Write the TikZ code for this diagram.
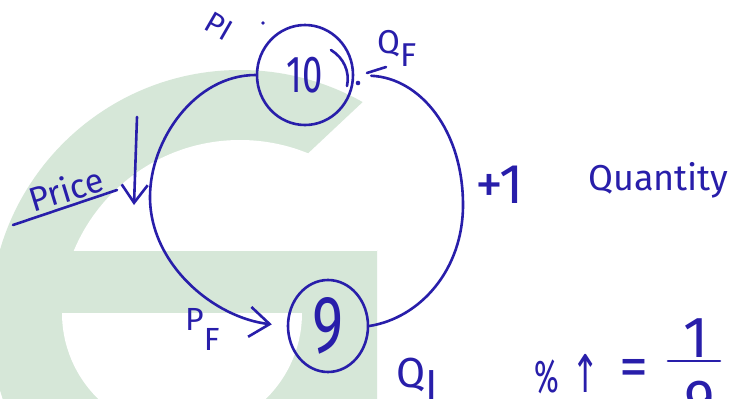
\documentclass[tikz,border=0pt]{standalone}
\usepackage{fontspec}
\setmainfont{Fira Sans}
\newfontfamily\arrowfont{DejaVu Sans}
\usepackage{graphicx}
\usetikzlibrary{shapes.geometric,arrows.meta}
\definecolor{ink}{RGB}{40,30,170}
\definecolor{wm}{RGB}{214,231,216}
\tikzset{
  inkline/.style={draw=ink, line width=2.6pt, line cap=round, line join=round},
  numcirc/.style={ellipse, draw=ink, line width=2.6pt, inner sep=0pt, text=ink},
  lbl/.style={text=ink, inner sep=0pt},
}
\begin{document}
\begin{tikzpicture}[x=1pt,y=-1pt]
\clip (0,0) rectangle (729,399);
\fill[white] (0,0) rectangle (729,399);
% watermark
\begin{scope}
  \clip (-10,-10) rectangle (377,410);
  \begin{scope}
    \clip (-10,-10) -- (482,-10) -- (205,250) -- (-10,250) -- cycle;
    \fill[wm] (240,320) circle (250);
  \end{scope}
  \begin{scope}
    \clip (-10,250) rectangle (400,410);
    \fill[wm] (240,320) circle (250);
  \end{scope}
  \begin{scope}
    \clip (-10,-10) rectangle (400,250);
    \fill[white] (240,320) circle (180);
  \end{scope}
  \begin{scope}
    \clip (-10,313) rectangle (400,410);
    \fill[white] (182,313) circle (120);
  \end{scope}
\end{scope}
% circled numbers
\node[numcirc, minimum width=96pt, minimum height=100pt, font=\fontsize{52}{52}\selectfont] (ten) at (305,75) {\scalebox{0.7}[1]{10}};
\node[numcirc, minimum width=80pt, minimum height=92pt, font=\fontsize{81}{81}\selectfont] (nine) at (328,326) {\scalebox{0.73}[1]{9}};
\coordinate (lmid) at (150,197);
\coordinate (rmid) at (463,205);
\draw[inkline, -{Straight Barb[length=20pt,width=30pt]}, shorten >=15pt] (ten.west) .. controls (195,75) and (150,140) .. (lmid) .. controls (150,265) and (215,318) .. (nine.west);
\draw[inkline, shorten <=17pt] (ten.east) .. controls (420,78) and (463,130) .. (rmid) .. controls (463,270) and (420,318) .. (nine.east);
\draw[inkline] (331,50) .. controls (344,58) and (350,72) .. (347,86);
\draw[inkline] (367,73) -- (386,67);
\fill[ink] (263,23) circle (1.8);
\fill[ink] (358,83) circle (2.3);
% labels
\node[lbl, rotate=-30, font=\fontsize{30}{30}\selectfont] (pi) at (219,26) {PI};
\node[lbl, anchor=base west, font=\fontsize{33}{33}\selectfont] (qf) at (377,53) {Q\raisebox{-13pt}{F}};
\node[lbl, anchor=base west, font=\fontsize{56}{56}\selectfont] (plus) at (475,203) {+1};
\node[lbl, anchor=base west, font=\fontsize{36}{36}\selectfont] (qty) at (588,190) {Quantity};
\node[lbl, rotate=17, font=\fontsize{34}{34}\selectfont] (price) at (66,189) {Price};
\draw[inkline] (13,225) -- (117,190);
\coordinate (pa1) at (137,117);
\coordinate (pa2) at (134,205);
\draw[inkline, -{Straight Barb[length=18pt,width=26pt]}] (pa1) -- (pa2);
\node[lbl, anchor=base west, font=\fontsize{32}{32}\selectfont] (pf) at (185,330) {P\raisebox{-20pt}{F}};
\node[lbl, anchor=base west, font=\fontsize{42}{42}\selectfont] (qi) at (396,387) {Q\raisebox{-12pt}{I}};
\node[lbl, anchor=base west, font=\fontsize{46}{46}\selectfont] (pct) at (534,392) {\scalebox{0.65}[1]{\%}};
\node[lbl, font=\arrowfont\fontsize{52}{52}\selectfont] (up) at (586,373) {\scalebox{0.65}[1]{↑}};
\node[lbl, font=\fontsize{58}{58}\selectfont] (eq) at (634,373) {=};
\node[lbl, anchor=base, font=\fontsize{58}{58}\selectfont] (one) at (696,357) {1};
\draw[inkline] (668,361) -- (720,361);
\node[lbl, anchor=base, font=\fontsize{58}{58}\selectfont] (nn) at (700,420) {9};
\end{tikzpicture}
\end{document}
